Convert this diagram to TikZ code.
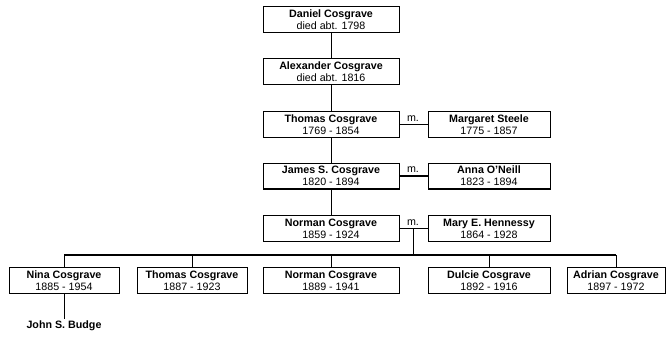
\documentclass[tikz,border=0pt]{standalone}
\usepackage{fontspec}
\setmainfont{Liberation Sans}
\tikzset{
  person/.style={draw, line width=0.7pt, inner sep=0pt, minimum height=25.5pt, align=center, font=\fontsize{10.7}{12}\selectfont},
  shade/.style={line width=1.6pt},
  link/.style={line width=0.8pt},
  wed/.style={line width=1.4pt},
  mlabel/.style={anchor=base, inner sep=0pt, font=\fontsize{10.7}{12}\selectfont}
}
\newcommand{\who}[2]{\textbf{#1}\\#2}

\begin{document}
\begin{tikzpicture}[x=1pt,y=-1pt]
  \useasboundingbox (0,0) rectangle (666,339);

  % direct line
  \node[person, minimum width=136pt] (daniel) at (331,19.5) {\who{Daniel Cosgrave}{died abt. 1798}};
  \node[person, minimum width=136pt] (alexander) at (331,71.5) {\who{Alexander Cosgrave}{died abt. 1816}};
  \node[person, minimum width=136pt] (thomas) at (331,124.5) {\who{Thomas Cosgrave}{1769 - 1854}};
  \node[person, minimum width=136pt] (james) at (331,176) {\who{James S. Cosgrave}{1820 - 1894}};
  \node[person, minimum width=136pt] (norman) at (331,228.5) {\who{Norman Cosgrave}{1859 - 1924}};

  % spouses
  \node[person, minimum width=122pt] (margaret) at (489,124.5) {\who{Margaret Steele}{1775 - 1857}};
  \node[person, minimum width=122pt] (anna) at (489,176) {\who{Anna O'Neill}{1823 - 1894}};
  \node[person, minimum width=122pt] (mary) at (489,228.5) {\who{Mary E. Hennessy}{1864 - 1928}};

  % children
  \node[person, minimum width=110pt] (nina) at (64,280.5) {\who{Nina Cosgrave}{1885 - 1954}};
  \node[person, minimum width=110pt] (thomasjr) at (192,280.5) {\who{Thomas Cosgrave}{1887 - 1923}};
  \node[person, minimum width=136pt] (normanjr) at (331,280.5) {\who{Norman Cosgrave}{1889 - 1941}};
  \node[person, minimum width=122pt] (dulcie) at (489,280.5) {\who{Dulcie Cosgrave}{1892 - 1916}};
  \node[person, minimum width=98pt] (adrian) at (616,280.5) {\who{Adrian Cosgrave}{1897 - 1972}};

  \node[inner sep=2pt, font=\fontsize{10.7}{12}\selectfont\bfseries] (john) at (64,326) {John S. Budge};

  \foreach \p in {daniel,alexander,thomas,james,norman,margaret,anna,mary,nina,thomasjr,normanjr,dulcie,adrian}
    \draw[shade] (\p.north east) -- (\p.south east) -- (\p.south west);

  \draw[link] (daniel) -- (alexander);
  \draw[link] (alexander) -- (thomas);
  \draw[link] (thomas) -- (james);
  \draw[link] (james) -- (norman);

  \draw[wed] (thomas) -- (margaret);
  \draw[wed] (james) -- (anna);
  \draw[link] (norman) -- (mary);
  \node[mlabel] (m1) at (413,121.5) {m.};
  \node[mlabel] (m2) at (413,173) {m.};
  \node[mlabel] (m3) at (413,225.5) {m.};

  \coordinate (couple) at (413,228.5);
  \coordinate (bar) at (413,255);
  \draw[link] (couple) -- (bar);
  \draw[wed] (nina.north |- bar) -- (adrian.north |- bar);
  \foreach \c in {nina,thomasjr,normanjr,dulcie,adrian}
    \draw[link] (\c.north |- bar) -- (\c.north);

  \draw[link] (nina) -- (john);
\end{tikzpicture}
\end{document}
